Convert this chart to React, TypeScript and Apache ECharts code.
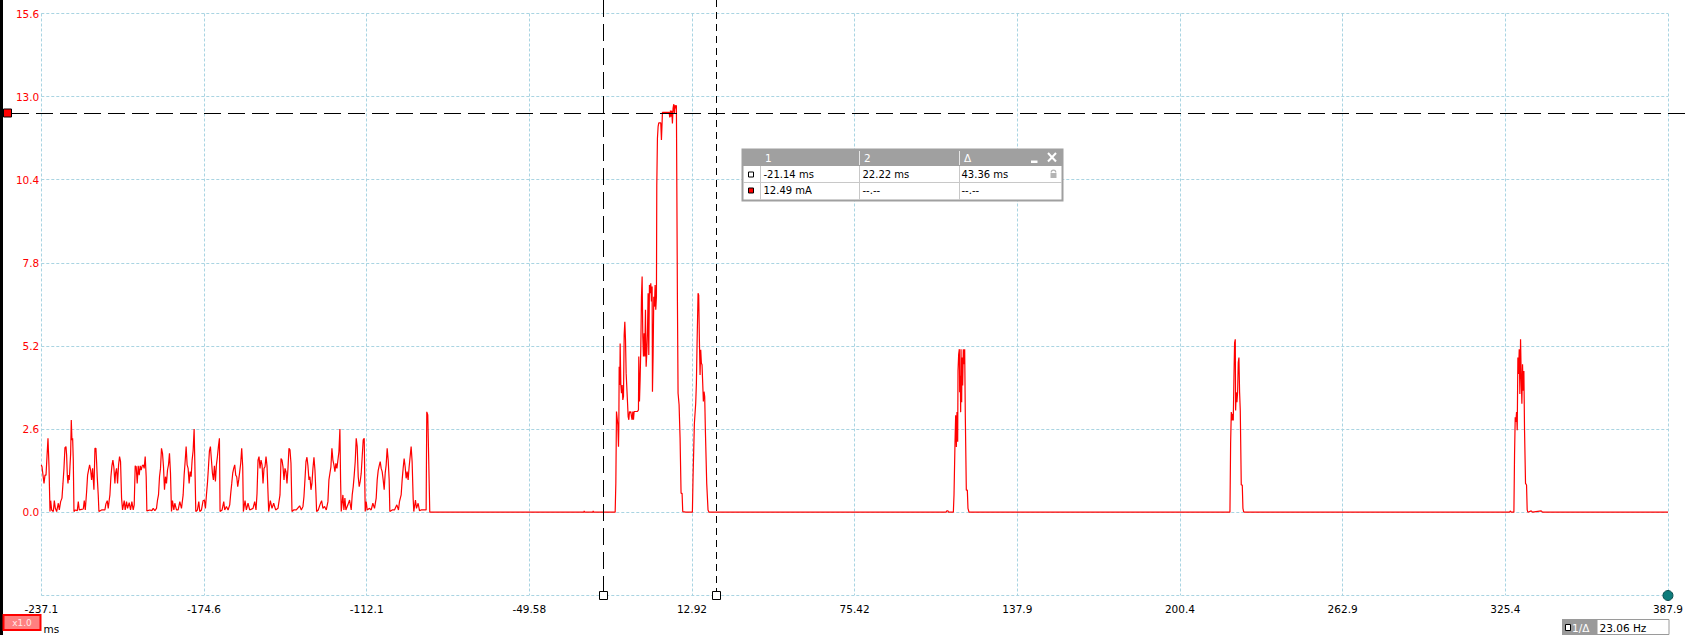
import React, { useEffect, useRef } from 'react';
import * as echarts from 'echarts';

// ---------- axis definition ----------
const X_MIN_MS = -237.08;
const X_MAX_MS = 387.92;
const X_STEP_MS = 62.5;
const X_TICK_LABELS = ['-237.1', '-174.6', '-112.1', '-49.58', '12.92', '75.42', '137.9', '200.4', '262.9', '325.4', '387.9'];
const Y_MIN = -2.6;
const Y_MAX = 15.6;
const Y_STEP = 2.6;

// ---------- cursors / readout ----------
const CURSOR_1_MS = -21.14;
const CURSOR_2_MS = 22.22;
const CURSOR_LEVEL_MA = 12.49;
const READOUT_HEADERS = ['1', '2', 'Δ'];
const READOUT_TIME_ROW = ['-21.14 ms', '22.22 ms', '43.36 ms'];
const READOUT_CURRENT_ROW = ['12.49 mA', '--.--', '--.--'];
const FREQ_LABEL = '1/Δ';
const FREQ_VALUE = '23.06 Hz';
const GAIN_LABEL = 'x1.0';
const UNIT_LABEL = 'ms';

// ---------- signal [ms, mA] ----------
const idleBursts: [number, number][] = [
  [-237.08, 1.48], [-236.81, 1.42], [-236.43, 1.16], [-236.04, 0.9], [-235.66, 1.16], [-235.27, 1.16], [-234.89, 1.74], [-234.51, 2.31], [-234.12, 1.42], [-233.74, 0.02], [-233.48, 0.36], [-233.1, 0.07], [-232.46, 0.02], [-232.08, 0.36], [-231.69, 0.12], [-231.18, 0.02], [-230.54, 0.28], [-230.16, 0.07], [-229.65, 0.33], [-229.14, 0.44], [-228.75, 0.9], [-228.37, 1.37], [-227.99, 2.02], [-227.6, 2.05], [-227.35, 1.79], [-227.09, 1.16], [-226.83, 0.9], [-226.58, 1.16], [-226.32, 1.01], [-226.07, 1.42], [-225.81, 1.82], [-225.56, 2.88], [-225.3, 2.26], [-225.04, 2.31], [-224.79, 1.63], [-224.53, 0.02], [-224.02, 0.07], [-223.25, 0.05], [-222.87, 0.33], [-222.49, 0.07], [-221.59, 0.09], [-220.95, 0.1], [-220.57, 0.36], [-220.18, 0.07],
  [-219.67, 0.64], [-219.29, 1.16], [-218.9, 1.32], [-218.52, 1.48], [-218.14, 1.32], [-217.75, 1.01], [-217.37, 1.37], [-216.86, 0.7], [-216.47, 2.0], [-216.09, 2.0], [-215.84, 1.58], [-215.58, 1.09], [-215.2, 0.54], [-214.94, 0.02], [-213.92, 0.07], [-212.64, 0.07], [-212.25, 0.26], [-211.74, 0.36], [-211.36, 0.12], [-210.98, 0.38], [-210.72, 0.54], [-210.34, 1.11], [-209.95, 1.45], [-209.57, 1.63], [-209.19, 1.4], [-208.8, 0.9], [-208.55, 1.22], [-208.16, 1.37], [-207.78, 0.9], [-207.39, 1.48], [-207.01, 1.74], [-206.63, 1.58], [-206.24, 0.44], [-205.86, 0.07], [-205.22, 0.36], [-204.84, 0.07], [-204.33, 0.33], [-203.94, 0.12], [-203.3, 0.3], [-202.79, 0.07], [-202.28, 0.33], [-201.77, 0.07], [-201.38, 0.23],
  [-201.0, 1.45], [-200.62, 1.42], [-200.23, 0.9], [-199.85, 1.45], [-199.47, 1.16], [-199.08, 1.45], [-198.7, 1.32], [-198.31, 1.45], [-197.93, 1.48], [-197.55, 1.37], [-197.16, 1.74], [-196.78, 1.11], [-196.52, 0.04], [-195.37, 0.07], [-194.61, 0.05], [-194.09, 0.12], [-193.45, 0.05], [-192.82, 0.12], [-192.43, 0.38], [-192.05, 0.54], [-191.66, 1.11], [-191.28, 1.37], [-190.9, 2.0], [-190.51, 1.84], [-190.13, 1.42], [-189.75, 0.7], [-189.36, 1.11], [-188.98, 0.9], [-188.59, 1.32], [-188.21, 1.48], [-187.83, 1.84], [-187.44, 1.22], [-187.06, 0.02], [-186.68, 0.36], [-186.16, 0.07], [-185.78, 0.28], [-185.14, 0.07], [-184.5, 0.07], [-183.86, 0.33], [-183.22, 0.12],
  [-182.58, 0.54], [-182.2, 1.16], [-181.82, 1.58], [-181.43, 2.05], [-181.05, 1.48], [-180.67, 1.37], [-180.28, 0.9], [-179.9, 1.27], [-179.51, 1.11], [-179.13, 1.63], [-178.75, 1.92], [-178.36, 2.6], [-178.11, 1.63], [-177.72, 0.02], [-177.09, 0.07], [-176.57, 0.33], [-176.19, 0.02], [-175.55, 0.07], [-174.91, 0.36], [-174.4, 0.38], [-174.02, 0.12], [-173.63, 0.54], [-173.25, 0.9], [-172.86, 1.4], [-172.48, 1.92], [-172.1, 2.05], [-171.71, 1.63], [-171.33, 1.22], [-170.95, 1.01], [-170.56, 1.45], [-170.18, 0.96], [-169.8, 1.48], [-169.41, 1.74], [-169.03, 2.05], [-168.64, 2.31], [-168.39, 0.02], [-167.62, 0.07], [-166.98, 0.33], [-166.6, 0.07], [-165.96, 0.18], [-165.32, 0.07], [-164.68, 0.23],
  [-164.3, 0.59], [-163.91, 0.9], [-163.53, 1.22], [-163.15, 1.37], [-162.76, 1.48], [-162.38, 1.16], [-161.99, 1.11], [-161.61, 0.8], [-161.23, 1.01], [-160.84, 1.27], [-160.46, 1.53], [-160.08, 2.0], [-159.69, 1.42], [-159.44, 0.02], [-158.8, 0.36], [-158.29, 0.07], [-157.65, 0.28], [-157.01, 0.07], [-155.73, 0.12], [-155.09, 0.33], [-154.58, 0.07], [-154.19, 0.59], [-153.81, 1.63], [-153.43, 1.74], [-153.04, 1.37], [-152.66, 1.63], [-152.27, 1.48], [-151.89, 0.9], [-151.51, 1.37], [-151.12, 1.42], [-150.74, 1.74], [-150.36, 1.45], [-149.97, 0.59], [-149.72, 0.02], [-149.08, 0.36], [-148.44, 0.12], [-147.8, 0.28], [-147.03, 0.07], [-146.14, 0.12],
  [-145.37, 0.54], [-144.98, 1.68], [-144.6, 1.63], [-144.22, 1.42], [-143.83, 1.01], [-143.45, 1.37], [-143.07, 1.27], [-142.68, 0.9], [-142.3, 1.37], [-141.92, 2.0], [-141.53, 1.95], [-141.15, 1.53], [-140.76, 0.02], [-140.12, 0.07], [-139.1, 0.07], [-137.82, 0.2], [-137.18, 0.07], [-136.54, 0.18], [-136.16, 0.49], [-135.78, 1.01], [-135.39, 1.58], [-135.01, 1.72], [-134.63, 1.45], [-134.24, 1.01], [-133.86, 1.11], [-133.47, 0.7], [-133.09, 0.9], [-132.71, 1.37], [-132.32, 1.72], [-131.94, 1.32], [-131.56, 0.59], [-131.3, 0.02], [-130.66, 0.07], [-129.89, 0.26], [-129.38, 0.36], [-128.87, 0.12], [-128.23, 0.18], [-127.59, 0.07],
  [-126.95, 0.33], [-126.57, 1.01], [-126.18, 1.22], [-125.8, 1.42], [-125.42, 2.0], [-125.03, 1.63], [-124.65, 1.48], [-124.27, 1.27], [-123.88, 1.53], [-123.5, 1.37], [-123.12, 1.63], [-122.73, 1.89], [-122.35, 2.6], [-122.09, 1.01], [-121.84, 0.02], [-121.2, 0.54], [-120.81, 0.07], [-120.43, 0.44], [-120.05, 0.07], [-119.28, 0.23], [-118.64, 0.38], [-118.0, 0.07], [-117.62, 0.54], [-117.23, 0.8], [-116.85, 1.16], [-116.47, 1.58], [-116.08, 2.31], [-115.7, 2.05], [-115.31, 1.11], [-114.93, 0.8], [-114.55, 0.96], [-114.16, 1.22], [-113.78, 1.74], [-113.4, 2.26], [-113.01, 2.31], [-112.63, 0.02], [-112.24, 0.33], [-111.86, 0.07], [-110.97, 0.12], [-110.33, 0.07], [-109.69, 0.28], [-109.05, 0.12],
  [-108.41, 0.44], [-108.02, 1.01], [-107.64, 1.3], [-107.26, 1.45], [-106.87, 1.58], [-106.49, 1.37], [-106.11, 1.27], [-105.72, 1.01], [-105.34, 0.7], [-104.95, 1.22], [-104.57, 1.48], [-104.19, 2.0], [-103.8, 1.63], [-103.42, 1.01], [-103.16, 0.02], [-102.27, 0.07], [-101.37, 0.07], [-100.48, 0.23], [-99.84, 0.07], [-99.46, 0.33], [-98.82, 0.54], [-98.43, 1.01], [-98.05, 1.37], [-97.67, 1.68], [-97.28, 1.42], [-96.9, 1.06], [-96.51, 1.27], [-96.13, 1.01], [-95.75, 1.42], [-95.36, 1.74], [-94.98, 2.05], [-94.6, 1.58], [-94.21, 0.44], [-93.96, 0.02], [-93.32, 0.38], [-92.93, 0.12], [-92.29, 0.28], [-91.78, 0.05], [-91.14, 0.07], [-89.22, 0.07], [-88.97, 3.14], [-88.59, 3.04], [-88.2, 1.53], [-87.82, 0],
];

const quietGap: [number, number][] = [
  [-60.0, 0], [-28.6, 0], [-28.48, 0.04], [-28.35, 0], [-25.15, 0], [-25.03, 0.04], [-24.9, 0],
];

const mainBurst: [number, number][] = [
  [-16.59, 0], [-16.33, 0.91], [-16.08, 3.15], [-15.82, 3.15], [-15.57, 2.73], [-15.31, 2.05], [-15.18, 2.68], [-15.05, 4.55], [-14.8, 3.98], [-14.67, 5.28], [-14.41, 3.98], [-14.16, 3.72], [-13.9, 3.98], [-13.65, 3.51], [-13.39, 3.62], [-13.13, 5.54], [-12.88, 5.96], [-12.62, 5.39], [-12.37, 4.35], [-12.11, 4.35], [-11.86, 3.46], [-11.6, 2.99], [-11.34, 2.89], [-11.09, 3.15], [-10.83, 3.1], [-10.58, 3.15], [-10.32, 2.99], [-10.07, 2.89], [-9.81, 3.15], [-9.55, 2.89], [-9.3, 3.15], [-8.66, 3.15], [-8.02, 3.15], [-7.64, 3.2],
  [-7.51, 4.87], [-7.25, 3.46], [-7.0, 4.14], [-6.74, 5.13], [-6.48, 6.74], [-6.23, 7.37], [-5.97, 5.49], [-5.72, 4.87], [-5.46, 5.6], [-5.21, 4.87], [-4.95, 6.33], [-4.69, 4.55], [-4.44, 4.97], [-4.18, 5.6], [-3.93, 6.85], [-3.67, 4.92], [-3.42, 7.11], [-3.16, 6.85], [-2.9, 7.16], [-2.65, 6.59], [-2.39, 7.06], [-2.26, 3.77], [-2.01, 4.92], [-1.75, 6.74], [-1.5, 6.43], [-1.24, 7.11], [-0.99, 6.33], [-0.73, 6.74],
  [-0.6, 10.21], [-0.35, 11.69], [-0.09, 12.06], [0.17, 12.18], [0.55, 12.18], [0.93, 12.18], [1.19, 11.64], [1.44, 12.18], [1.57, 12.51], [2.21, 12.51], [2.85, 12.51], [3.49, 12.51], [4.13, 12.51], [4.39, 12.35], [4.64, 12.56], [4.9, 12.37], [5.15, 12.56], [5.41, 12.16], [5.66, 12.63], [5.92, 12.77], [6.18, 12.47], [6.43, 12.73], [6.69, 12.63], [6.94, 12.73], [7.2, 12.73],
  [7.33, 6.64], [7.58, 3.72], [7.97, 3.36], [8.35, 2.31], [8.73, 0.59], [9.12, 0.59], [9.37, 0.02], [10.52, 0], [13.08, 0],
  [13.34, 1.12], [13.59, 1.12], [13.85, 2.78], [14.11, 2.78], [14.36, 3.41], [14.62, 4.03], [14.87, 5.23], [15.13, 5.23], [15.26, 6.85], [15.51, 6.79], [15.77, 5.39], [16.03, 4.29], [16.28, 5.08], [16.54, 4.66], [16.79, 4.61], [17.05, 4.03], [17.3, 3.46], [17.56, 3.77], [17.81, 3.62], [18.07, 2.57], [18.33, 2.57], [18.58, 0.91], [18.84, 0.91], [19.09, 0.07], [19.48, 0],
];

const pulse1: [number, number][] = [
  [107.72, 0], [110.53, 0], [110.79, 0.04], [111.3, 0.04], [111.56, 0], [113.35, 0], [113.6, 0.54], [113.86, 0.54], [113.99, 2.2], [114.24, 3.03], [114.5, 2.04], [114.75, 3.13], [115.01, 2.2], [115.14, 4.42], [115.39, 4.94], [115.65, 5.1], [115.78, 3.75], [116.03, 4.27], [116.16, 3.13], [116.29, 5.1], [116.54, 3.44], [116.67, 4.84], [116.93, 3.96], [117.18, 5.1], [117.44, 4.63], [117.7, 5.1], [117.95, 2.97], [118.33, 0.69], [118.72, 0.69], [118.97, 0.12], [119.36, 0],
];

const pulse2: [number, number][] = [
  [213.23, 0], [219.62, 0], [219.88, 2.14], [220.14, 3.13], [220.39, 2.87], [220.65, 3.08], [220.9, 2.87], [221.16, 4.22], [221.41, 5.3], [221.67, 5.41], [221.8, 3.18], [222.05, 3.75], [222.31, 3.44], [222.57, 3.75], [222.82, 4.68], [223.08, 4.84], [223.33, 3.75], [223.59, 3.18], [223.97, 0.85], [224.36, 0.85], [224.61, 0.12], [224.87, 0.02], [225.12, 0],
];

const pulse3: [number, number][] = [
  [322.58, 0], [327.06, 0], [327.31, 0.04], [327.7, 0], [328.72, 0], [328.97, 1.78], [329.23, 2.97], [329.49, 2.82], [329.74, 3.13], [330.0, 2.56], [330.25, 4.84], [330.51, 4.32], [330.77, 5.1], [331.02, 3.7], [331.28, 5.41], [331.53, 4.27], [331.79, 3.39], [332.04, 4.63], [332.3, 3.8], [332.56, 4.42], [332.81, 2.56], [333.19, 0.9], [333.58, 0.85], [333.83, 0.07], [334.09, 0], [335.37, 0.04], [335.88, 0], [339.21, 0.04], [339.72, 0], [387.92, 0],
];

const FONT = '"DejaVu Sans", Tahoma, sans-serif';
const GRID_COLOR = '#a9d4e2';

export default function App() {
  const ref = useRef<HTMLDivElement>(null);

  useEffect(() => {
    if (!ref.current) return;
    const chart = echarts.init(ref.current, null, { renderer: 'svg' });
    const span = Math.round((X_MAX_MS - X_MIN_MS) * 100) / 100;
    const trace = [...idleBursts, ...quietGap, ...mainBurst, ...pulse1, ...pulse2, ...pulse3].map(
      ([t, v]) => [Math.round((t - X_MIN_MS) * 1000) / 1000, v]
    );

    chart.setOption({
      animation: false,
      backgroundColor: '#ffffff',
      grid: { left: 41.3, right: 15.7, top: 13.5, bottom: 39.7, containLabel: false },
      xAxis: {
        type: 'value',
        min: 0,
        max: span,
        interval: X_STEP_MS,
        axisLine: { show: false },
        axisTick: { show: false },
        axisLabel: {
          formatter: (v: number) => X_TICK_LABELS[Math.round(v / X_STEP_MS)] ?? '',
          color: '#000000',
          fontFamily: FONT,
          fontSize: 10.5,
          margin: 8,
          showMinLabel: true,
          showMaxLabel: true,
        },
        splitLine: { show: true, lineStyle: { color: GRID_COLOR, type: [3, 2], width: 1 } },
      },
      yAxis: {
        type: 'value',
        min: Y_MIN,
        max: Y_MAX,
        interval: Y_STEP,
        axisLine: { show: false },
        axisTick: { show: false },
        axisLabel: {
          formatter: (v: number) => (v < -0.01 ? '' : v.toFixed(1)),
          color: '#ff0000',
          fontFamily: FONT,
          fontSize: 10.5,
          margin: 2,
        },
        splitLine: { show: true, lineStyle: { color: GRID_COLOR, type: [3, 2], width: 1 } },
      },
      series: [
        {
          type: 'line',
          data: trace,
          showSymbol: false,
          symbol: 'none',
          lineStyle: { color: '#ff0000', width: 1.2 },
          z: 3,
        },
      ],
    });

    const px = (t: number, v: number) =>
      chart.convertToPixel({ gridIndex: 0 } as any, [t - X_MIN_MS, v]) as number[];
    const [c1x] = px(CURSOR_1_MS, 0);
    const [c2x] = px(CURSOR_2_MS, 0);
    const [, levelY] = px(0, CURSOR_LEVEL_MA);
    const [endX, bottomY] = px(X_MAX_MS, Y_MIN);
    const X1 = Math.round(c1x) + 0.5;
    const X2 = Math.round(c2x) + 0.5;
    const LY = Math.round(levelY) + 0.5;
    const BY = Math.round(bottomY);

    const txt = (x: number, y: number, text: string, fill: string, size: number, align = 'left') => ({
      type: 'text',
      x,
      y,
      z: 110,
      style: {
        text,
        fill,
        font: `${size}px ${FONT}`,
        align,
        verticalAlign: 'middle',
        textAlign: align,
        textVerticalAlign: 'middle',
      },
    });

    // readout table geometry
    const TX = 742, TY = 149, TW = 320, TH = 51, HH = 17;
    const cols = [760.5, 859.5, 959.5];
    const row1Y = 174.5, row2Y = 190.5;

    const elements: any[] = [
      // left black bar
      { type: 'rect', z: 100, shape: { x: 0, y: 0, width: 3, height: 635 }, style: { fill: '#000000' } },
      // horizontal level cursor
      { type: 'line', z: 100, shape: { x1: 12, y1: LY, x2: 1686, y2: LY }, style: { stroke: '#000000', lineWidth: 1, lineDash: [17, 7] } },
      { type: 'rect', z: 101, shape: { x: 3.5, y: LY - 4.5, width: 8, height: 8 }, style: { fill: '#ff0000', stroke: '#000000', lineWidth: 1 } },
      // vertical cursors
      { type: 'line', z: 100, shape: { x1: X1, y1: 0, x2: X1, y2: BY - 4 }, style: { stroke: '#000000', lineWidth: 1, lineDash: [17, 7] } },
      { type: 'line', z: 100, shape: { x1: X2, y1: 0, x2: X2, y2: BY - 4 }, style: { stroke: '#000000', lineWidth: 1, lineDash: [7, 5] } },
      { type: 'rect', z: 101, shape: { x: X1 - 4, y: BY - 3.5, width: 8, height: 8 }, style: { fill: '#ffffff', stroke: '#000000', lineWidth: 1 } },
      { type: 'rect', z: 101, shape: { x: X2 - 4, y: BY - 3.5, width: 8, height: 8 }, style: { fill: '#ffffff', stroke: '#000000', lineWidth: 1 } },
      // trigger circle at right end
      { type: 'circle', z: 101, shape: { cx: endX, cy: BY + 0.5, r: 5 }, style: { fill: '#0e7c7b', stroke: '#0a4d4d', lineWidth: 1 } },
      // gain badge + unit
      { type: 'rect', z: 101, shape: { x: 3.5, y: 615, width: 37, height: 15 }, style: { fill: '#ff8080', stroke: '#ff0000', lineWidth: 2 } },
      txt(22, 622.5, GAIN_LABEL, '#ffe8e8', 9, 'center'),
      txt(43.5, 628.5, UNIT_LABEL, '#000000', 10.5),
      // frequency box
      { type: 'rect', z: 101, shape: { x: 1562, y: 619, width: 35, height: 16 }, style: { fill: '#9a9a9a' } },
      { type: 'rect', z: 102, shape: { x: 1565.5, y: 624.5, width: 5, height: 6 }, style: { fill: '#ffffff', stroke: '#000000', lineWidth: 1 } },
      txt(1572, 627.5, FREQ_LABEL, '#ffffff', 10.5),
      { type: 'rect', z: 101, shape: { x: 1597, y: 619.5, width: 72, height: 15 }, style: { fill: '#ffffff', stroke: '#9a9a9a', lineWidth: 1 } },
      txt(1599.5, 627.5, FREQ_VALUE, '#000000', 10.5),
      // readout table
      { type: 'rect', z: 105, shape: { x: TX + 0.5, y: TY + 0.5, width: TW, height: TH }, style: { fill: '#ffffff', stroke: '#a0a0a0', lineWidth: 2 } },
      { type: 'rect', z: 106, shape: { x: TX, y: TY, width: TW + 1, height: HH }, style: { fill: '#a0a0a0' } },
      { type: 'line', z: 107, shape: { x1: cols[1], y1: TY + 2, x2: cols[1], y2: TY + HH - 1 }, style: { stroke: '#e6e6e6', lineWidth: 1 } },
      { type: 'line', z: 107, shape: { x1: cols[2], y1: TY + 2, x2: cols[2], y2: TY + HH - 1 }, style: { stroke: '#e6e6e6', lineWidth: 1 } },
      { type: 'line', z: 107, shape: { x1: TX + 1, y1: 182.5, x2: TX + TW, y2: 182.5 }, style: { stroke: '#c8c8c8', lineWidth: 1 } },
      ...cols.map((c) => ({ type: 'line', z: 107, shape: { x1: c, y1: TY + HH, x2: c, y2: TY + TH }, style: { stroke: '#c8c8c8', lineWidth: 1 } })),
      txt(765, 158, READOUT_HEADERS[0], '#ffffff', 10.5),
      txt(864, 158, READOUT_HEADERS[1], '#ffffff', 10.5),
      txt(964, 158, READOUT_HEADERS[2], '#ffffff', 10.5),
      { type: 'rect', z: 108, shape: { x: 1031, y: 160.5, width: 6.5, height: 2.5 }, style: { fill: '#ffffff' } },
      { type: 'line', z: 108, shape: { x1: 1048, y1: 153, x2: 1056, y2: 161.5 }, style: { stroke: '#ffffff', lineWidth: 2 } },
      { type: 'line', z: 108, shape: { x1: 1056, y1: 153, x2: 1048, y2: 161.5 }, style: { stroke: '#ffffff', lineWidth: 2 } },
      { type: 'rect', z: 108, shape: { x: 748.5, y: row1Y - 2.5, width: 5, height: 5 }, style: { fill: '#ffffff', stroke: '#000000', lineWidth: 1 } },
      { type: 'rect', z: 108, shape: { x: 748.5, y: row2Y - 2.5, width: 5, height: 5 }, style: { fill: '#ff0000', stroke: '#000000', lineWidth: 1 } },
      txt(763.5, row1Y, READOUT_TIME_ROW[0], '#000000', 10),
      txt(862.5, row1Y, READOUT_TIME_ROW[1], '#000000', 10),
      txt(961.5, row1Y, READOUT_TIME_ROW[2], '#000000', 10),
      txt(763.5, row2Y, READOUT_CURRENT_ROW[0], '#000000', 10),
      txt(862.5, row2Y, READOUT_CURRENT_ROW[1], '#000000', 10),
      txt(961.5, row2Y, READOUT_CURRENT_ROW[2], '#000000', 10),
      // lock icon
      { type: 'rect', z: 108, shape: { x: 1050.5, y: 173, width: 6, height: 5 }, style: { fill: '#b4b4b4' } },
      { type: 'arc', z: 108, shape: { cx: 1053.5, cy: 172.5, r: 2.3, startAngle: Math.PI, endAngle: 0 }, style: { stroke: '#b4b4b4', lineWidth: 1.2, fill: 'none' } },
    ];

    chart.setOption({ graphic: { elements } });

    return () => chart.dispose();
  }, []);

  return (
    <div
      ref={ref}
      style={{ position: 'fixed', left: 0, top: 0, width: 1686, height: 635, background: '#ffffff' }}
    />
  );
}
